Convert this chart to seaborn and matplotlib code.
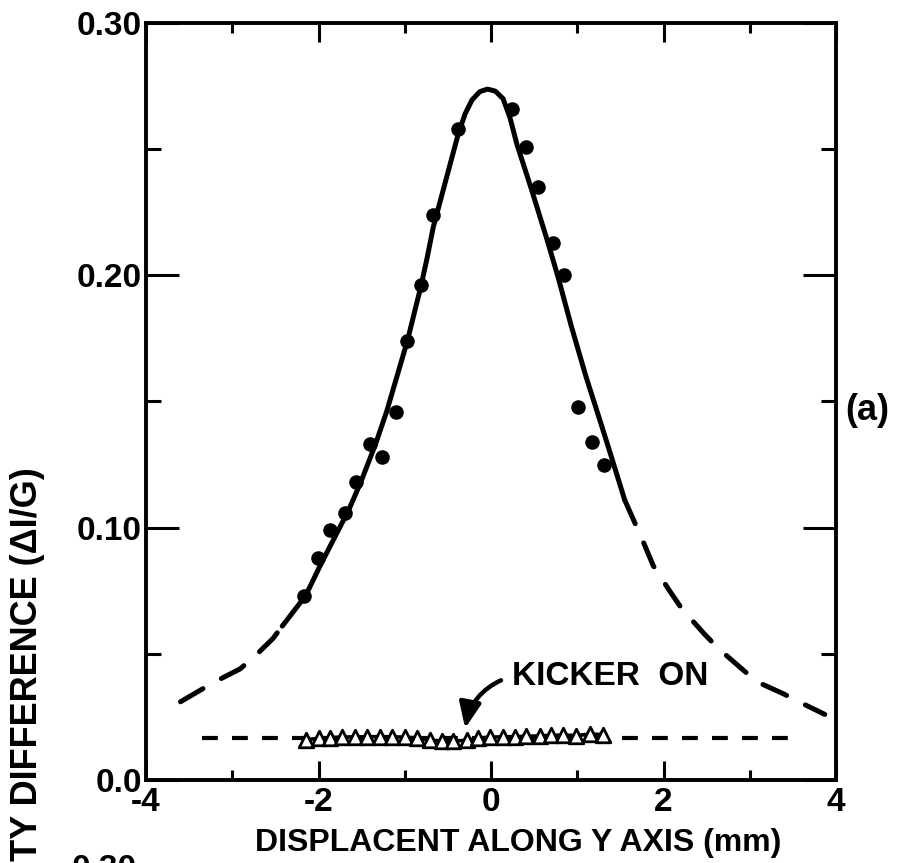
import matplotlib
matplotlib.use("Agg")
import matplotlib.pyplot as plt
import seaborn as sns
import pandas as pd

curve_x = [-3.60, -3.35, -3.14, -2.91, -2.71, -2.53, -2.42, -2.15, -1.98, -1.80,
           -1.65, -1.51, -1.34, -1.21, -0.97, -0.81, -0.74, -0.67, -0.49, -0.38,
           -0.30, -0.22, -0.13, -0.04, 0.05, 0.14, 0.22, 0.30, 0.47, 0.66,
           0.78, 0.93, 1.10, 1.24, 1.36, 1.55, 1.77, 1.88, 2.07, 2.21,
           2.47, 2.64, 2.91, 3.08, 3.40, 3.57, 3.87]
curve_y = [0.031, 0.036, 0.040, 0.044, 0.050, 0.056, 0.061, 0.073, 0.085, 0.097,
           0.107, 0.118, 0.133, 0.146, 0.174, 0.196, 0.207, 0.219, 0.242, 0.256,
           0.264, 0.2695, 0.2728, 0.2738, 0.273, 0.270, 0.2625, 0.252, 0.234, 0.213,
           0.199, 0.180, 0.160, 0.145, 0.132, 0.111, 0.094, 0.085, 0.075, 0.068,
           0.058, 0.052, 0.044, 0.039, 0.034, 0.031, 0.026]
solid_range = (-2.42, 1.55)

# measured points, kicker off
dots_x = [-2.17, -2.01, -1.87, -1.69, -1.56, -1.40, -1.26, -1.10, -0.97, -0.81,
          -0.67, -0.38, 0.24, 0.40, 0.55, 0.72, 0.85, 1.01, 1.17, 1.31]
dots_y = [0.073, 0.088, 0.099, 0.106, 0.118, 0.133, 0.128, 0.146, 0.174, 0.196,
          0.224, 0.258, 0.266, 0.251, 0.235, 0.213, 0.200, 0.148, 0.134, 0.125]

# measured points, kicker on
kick_x = [-2.14, -2.00, -1.87, -1.73, -1.58, -1.44, -1.29, -1.15, -1.00, -0.86,
          -0.71, -0.57, -0.44, -0.28, -0.15, -0.01, 0.14, 0.28, 0.41, 0.57,
          0.70, 0.84, 0.99, 1.15, 1.30]
kick_y = [0.0160, 0.0165, 0.0168, 0.0170, 0.0171, 0.0171, 0.0172, 0.0171, 0.0170, 0.0167,
          0.0158, 0.0155, 0.0155, 0.0157, 0.0166, 0.0170, 0.0171, 0.0172, 0.0173, 0.0175,
          0.0177, 0.0178, 0.0176, 0.0182, 0.0180]

# flat reference level
base_x = [-3.35, 3.45]
base_y = [0.0165, 0.0165]

sns.set_theme(style="ticks")
plt.rcParams['font.family'] = ['Liberation Sans', 'DejaVu Sans']
plt.rcParams['font.weight'] = 'bold'
plt.rcParams['axes.unicode_minus'] = False
plt.rcParams['text.color'] = 'black'
plt.rcParams['axes.labelcolor'] = 'black'
plt.rcParams['xtick.color'] = 'black'
plt.rcParams['ytick.color'] = 'black'

fig = plt.figure(figsize=(9.01, 8.63), dpi=100)
ax = fig.add_axes([146 / 901, 83 / 863, 690 / 901, 757 / 863])

curve = pd.DataFrame({'x': curve_x, 'y': curve_y})
lo, hi = solid_range
mid = curve[(curve.x >= lo) & (curve.x <= hi)]
left = curve[curve.x <= lo]
right = curve[curve.x >= hi]

sns.lineplot(data=mid, x='x', y='y', color='black', lw=3.6, sort=False,
             errorbar=None, solid_joinstyle='round', ax=ax)
for part in (left, right):
    sns.lineplot(data=part, x='x', y='y', color='black', lw=3.6, sort=False,
                 errorbar=None, linestyle=(0, (5.2, 4.2)), dash_capstyle='round', ax=ax)

sns.lineplot(x=base_x, y=base_y, color='black', lw=3.0, linestyle=(0, (3.8, 3.4)), ax=ax)

sns.scatterplot(x=dots_x, y=dots_y, color='black', edgecolor='black', s=110,
                linewidth=0, zorder=4, ax=ax)

sns.lineplot(x=kick_x, y=kick_y, color='black', lw=2.6, sort=False, errorbar=None, ax=ax)
sns.scatterplot(x=kick_x, y=kick_y, marker='^', color='white', edgecolor='black',
                s=110, linewidth=2.0, zorder=4, ax=ax)

ax.set_xlim(-4, 4)
ax.set_ylim(0, 0.30)
ax.set_xticks([-4, -2, 0, 2, 4], labels=['-4', '-2', '0', '2', '4'])
ax.set_xticks([-3, -1, 1, 3], minor=True)
ax.set_yticks([0, 0.1, 0.2, 0.3], labels=['0.0', '0.10', '0.20', '0.30'])
ax.set_yticks([0.05, 0.15, 0.25], minor=True)
ax.tick_params(axis='both', which='both', direction='in', top=True, right=True,
               width=2.2, color='black', labelsize=24, labelcolor='black')
ax.tick_params(axis='x', which='major', length=14, pad=5)
ax.tick_params(axis='x', which='minor', length=7)
ax.tick_params(axis='y', which='major', length=24, pad=3)
ax.tick_params(axis='y', which='minor', length=11)
for s in ax.spines.values():
    s.set_linewidth(2.8)
    s.set_color('black')

ax.set_ylabel('')
ax.set_xlabel('DISPLACENT ALONG Y AXIS (mm)', fontsize=23, fontweight='bold', color='black')
ax.xaxis.set_label_coords(0.539, -0.063)

ax.annotate('KICKER  ON', xy=(-0.30, 0.0205), xytext=(0.243, 0.0412),
            ha='left', va='center', fontsize=24, fontweight='bold',
            arrowprops=dict(arrowstyle='-|>,head_length=0.7,head_width=0.3',
                            connectionstyle='arc3,rad=0.3', lw=3.2, color='black',
                            mutation_scale=22, relpos=(0, 0.5), shrinkA=6, shrinkB=0))

ax.text(4.36, 0.1466, '(a)', ha='center', va='center', fontsize=26,
        fontweight='bold', clip_on=False)

fig.text(28 / 901, 1 - 467 / 863, 'INTENSITY DIFFERENCE (ΔI/G)', rotation=90,
         ha='center', va='top', fontsize=26, fontweight='bold')
# top of the next panel's axis label, cut by the page edge
fig.text(137 / 901, 1 - 854 / 863, '0.30', ha='right', va='top', fontsize=24,
         fontweight='bold')

fig.savefig('out.png', dpi=100)
